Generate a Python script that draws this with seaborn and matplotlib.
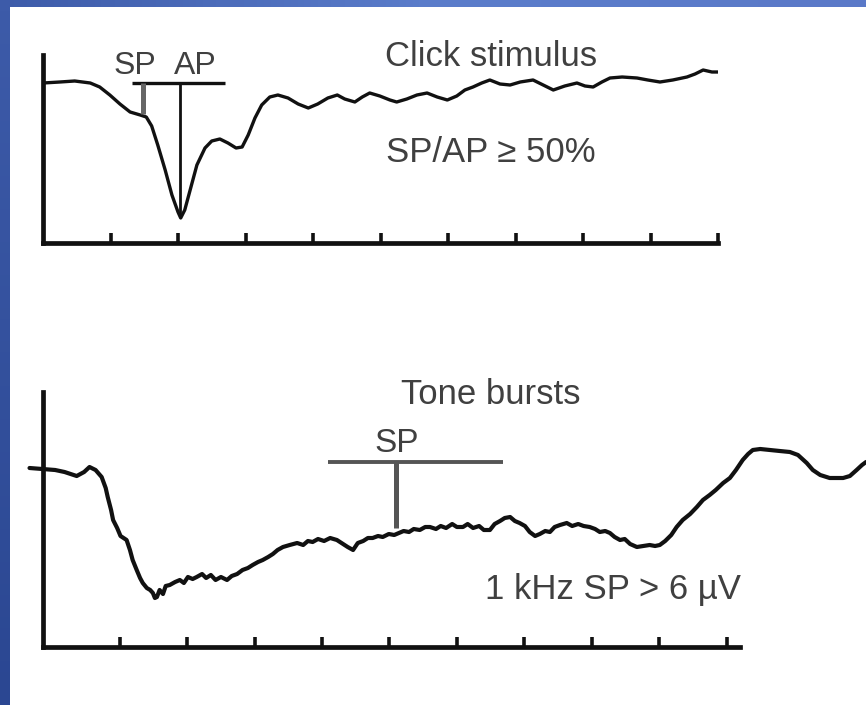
import numpy as np
import pandas as pd
import matplotlib
matplotlib.use("Agg")
import matplotlib.pyplot as plt
import seaborn as sns

# ---------------- data ----------------
# Click stimulus trace: time (tick units) and amplitude (arbitrary units, baseline 0)
click_time = [0.00, 0.25, 0.47, 0.70, 0.84, 0.99, 1.14, 1.29, 1.44, 1.53,
              1.61, 1.70, 1.81, 1.91, 2.00, 2.04, 2.10, 2.18, 2.28, 2.40,
              2.50, 2.62, 2.74, 2.86, 2.95, 3.04, 3.14, 3.24, 3.36, 3.48,
              3.63, 3.78, 3.93, 4.07, 4.22, 4.36, 4.47, 4.62, 4.73, 4.84,
              4.99, 5.14, 5.24, 5.39, 5.54, 5.69, 5.84, 5.99, 6.13, 6.25,
              6.37, 6.50, 6.62, 6.77, 6.92, 7.07, 7.26, 7.41, 7.56, 7.73,
              7.91, 8.03, 8.15, 8.28, 8.40, 8.58, 8.80, 8.96, 9.14, 9.33,
              9.54, 9.66, 9.78, 9.91, 10.03]
click_amp = [0.0, 0.1, 0.2, 0.0, -0.4, -1.2, -2.1, -2.9, -3.2, -3.4,
             -4.3, -6.2, -8.7, -11.2, -12.9, -13.5, -12.7, -10.7, -8.2, -6.5,
             -5.8, -5.6, -6.0, -6.5, -6.4, -5.2, -3.5, -2.2, -1.4, -1.2,
             -1.5, -2.1, -2.5, -2.1, -1.5, -1.2, -1.6, -1.9, -1.4, -1.0,
             -1.3, -1.7, -1.9, -1.6, -1.2, -1.0, -1.4, -1.7, -1.3, -0.7,
             -0.4, 0.0, 0.3, -0.1, -0.2, 0.1, 0.3, -0.2, -0.7, -0.3,
             0.0, -0.3, -0.4, 0.1, 0.5, 0.6, 0.5, 0.3, 0.1, 0.3,
             0.6, 0.9, 1.3, 1.1, 1.1]

# Tone-burst trace
tone_time = [-0.34, -0.14, 0.04, 0.18, 0.36, 0.47, 0.55, 0.64, 0.73, 0.79,
             0.82, 0.87, 0.90, 0.96, 1.01, 1.10, 1.15, 1.19, 1.25, 1.30,
             1.34, 1.40, 1.45, 1.49, 1.52, 1.55, 1.59, 1.64, 1.68, 1.74,
             1.82, 1.89, 1.95, 2.01, 2.08, 2.14, 2.22, 2.28, 2.35, 2.42,
             2.50, 2.59, 2.66, 2.74, 2.82, 2.90, 2.97, 3.05, 3.12, 3.20,
             3.27, 3.34, 3.42, 3.52, 3.63, 3.72, 3.79, 3.86, 3.94, 4.03,
             4.12, 4.22, 4.31, 4.38, 4.46, 4.53, 4.61, 4.68, 4.75, 4.83,
             4.90, 4.99, 5.07, 5.14, 5.21, 5.29, 5.36, 5.45, 5.53, 5.60,
             5.69, 5.76, 5.84, 5.93, 6.00, 6.09, 6.16, 6.24, 6.33, 6.40,
             6.49, 6.56, 6.64, 6.71, 6.79, 6.86, 6.93, 7.01, 7.08, 7.16,
             7.23, 7.31, 7.38, 7.45, 7.53, 7.63, 7.71, 7.80, 7.88, 7.97,
             8.05, 8.12, 8.20, 8.27, 8.34, 8.42, 8.49, 8.57, 8.67, 8.76,
             8.86, 8.94, 9.01, 9.09, 9.18, 9.26, 9.35, 9.46, 9.56, 9.65,
             9.75, 9.84, 9.95, 10.05, 10.14, 10.24, 10.32, 10.39, 10.50, 10.64,
             10.79, 10.94, 11.06, 11.19, 11.28, 11.39, 11.53, 11.73, 11.83, 11.93,
             12.01, 12.07]
tone_amp = [0.0, -0.1, -0.2, -0.4, -0.8, -0.4, 0.1, -0.2, -0.9, -2.0,
            -2.9, -4.2, -5.2, -6.0, -6.8, -7.2, -8.2, -9.2, -10.2, -11.0,
            -11.5, -12.0, -12.2, -12.5, -13.0, -12.9, -12.2, -12.6, -11.8, -11.7,
            -11.4, -11.2, -11.5, -10.9, -11.1, -10.9, -10.6, -11.0, -10.7, -11.2,
            -10.9, -11.2, -10.8, -10.6, -10.2, -10.0, -9.7, -9.4, -9.2, -8.9,
            -8.6, -8.2, -7.9, -7.7, -7.5, -7.7, -7.3, -7.4, -7.1, -7.3,
            -7.0, -7.2, -7.6, -7.9, -8.2, -7.5, -7.3, -7.0, -7.0, -6.8,
            -6.9, -6.6, -6.7, -6.5, -6.3, -6.4, -6.1, -6.2, -5.9, -5.9,
            -6.1, -5.8, -6.0, -5.6, -5.9, -5.9, -5.6, -6.0, -5.8, -6.2,
            -6.2, -5.6, -5.3, -5.0, -4.9, -5.3, -5.5, -5.8, -6.4, -6.8,
            -6.6, -6.3, -6.4, -5.9, -5.7, -5.5, -5.8, -5.6, -5.8, -5.9,
            -6.1, -6.4, -6.3, -6.5, -6.9, -7.2, -7.1, -7.6, -7.9, -7.8,
            -7.7, -7.8, -7.7, -7.3, -6.7, -5.9, -5.2, -4.6, -3.9, -3.2,
            -2.7, -2.2, -1.5, -1.0, -0.2, 0.8, 1.4, 1.8, 1.9, 1.8,
            1.7, 1.6, 1.3, 0.5, -0.2, -0.7, -1.0, -1.0, -0.8, -0.2,
            0.3, 0.6]

click_ticks = [1, 2, 3, 4, 5, 6, 7, 8, 9, 10]
tone_ticks = [1, 2, 3, 4, 5, 6, 7, 8, 9, 10]

# SP / AP markers
click_sp_time, click_sp_amp = 1.48, -3.1
click_ap_time, click_ap_amp = 2.03, -13.2
click_bar = (1.32, 2.70)
tone_sp_time, tone_sp_amp = 5.10, -6.0
tone_bar = (4.09, 6.68)
tone_bar_level = 0.6

title_click = "Click stimulus"
note_click = "SP/AP \u2265 50%"
title_tone = "Tone bursts"
note_tone = "1 kHz SP > 6 \u00b5V"

# ---------------- figure ----------------
sns.set_theme(style="white")
plt.rcParams["font.family"] = ["Liberation Sans", "DejaVu Sans"]

W, H = 866, 705
fig = plt.figure(figsize=(W / 100, H / 100), dpi=100, facecolor="white")

# slide-style blue border (left strip, top strip)
ax_l = fig.add_axes([0, 0, 10 / W, 1])
grad_v = np.linspace(0, 1, 64).reshape(-1, 1)
cm_v = matplotlib.colors.LinearSegmentedColormap.from_list("v", ["#3d5ba9", "#2b4792"])
ax_l.imshow(grad_v, aspect="auto", cmap=cm_v, extent=[0, 1, 0, 1], origin="upper")
ax_l.axis("off")
ax_t = fig.add_axes([0, 1 - 7 / H, 1, 7 / H])
grad_h = np.linspace(0, 1, 128).reshape(1, -1)
cm_h = matplotlib.colors.LinearSegmentedColormap.from_list("h", ["#3d5ba9", "#5b7dcb", "#5a79c8"])
ax_t.imshow(grad_h, aspect="auto", cmap=cm_h, extent=[0, 1, 0, 1])
ax_t.axis("off")

TXT = "#404040"
LINE = "#111111"


def style_axes(ax, ticks):
    sns.despine(ax=ax, top=True, right=True)
    for s in ("left", "bottom"):
        ax.spines[s].set_linewidth(3.4)
        ax.spines[s].set_color(LINE)
    ax.set_xticks(ticks)
    ax.set_yticks([])
    ax.tick_params(axis="x", direction="in", length=7, width=2.6, color=LINE,
                   labelbottom=False, bottom=True)
    ax.set_xlabel("")
    ax.set_ylabel("")
    ax.set_facecolor("none")


# ---- top panel: click ----
ax1 = fig.add_axes([43 / W, (H - 243) / H, 675 / W, 188 / H])
df1 = pd.DataFrame({"time": click_time, "amp": click_amp})
sns.lineplot(data=df1, x="time", y="amp", ax=ax1, color=LINE, linewidth=2.4,
             estimator=None, sort=False)
ax1.set_xlim(0, 10)
ax1.set_ylim(-16.0, 2.8)
style_axes(ax1, click_ticks)
ax1.plot(click_bar, [0, 0], color=LINE, lw=2.4, solid_capstyle="butt")
ax1.plot([click_sp_time, click_sp_time], [0, click_sp_amp], color="#666666", lw=3.6,
         solid_capstyle="butt")
ax1.plot([click_ap_time, click_ap_time], [0, click_ap_amp], color=LINE, lw=2.0,
         solid_capstyle="butt")
ax1.text(click_sp_time - 0.12, 1.7, "SP", ha="center", va="center", fontsize=23, color=TXT)
ax1.text(click_ap_time + 0.22, 1.7, "AP", ha="center", va="center", fontsize=23, color=TXT)
ax1.text(6.64, 2.6, title_click, ha="center", va="center", fontsize=25, color=TXT)
ax1.text(6.64, -6.9, note_click, ha="center", va="center", fontsize=25, color=TXT)

# ---- bottom panel: tone bursts ----
ax2 = fig.add_axes([43 / W, (H - 647) / H, 697 / W, 255 / H])
df2 = pd.DataFrame({"time": tone_time, "amp": tone_amp})
sns.lineplot(data=df2, x="time", y="amp", ax=ax2, color=LINE, linewidth=3.0,
             estimator=None, sort=False)
for ln in ax2.lines:
    ln.set_clip_on(False)
ax2.set_xlim(-0.14, 10.20)
ax2.set_ylim(-17.9, 7.6)
style_axes(ax2, tone_ticks)
ax2.plot(tone_bar, [tone_bar_level, tone_bar_level], color="#555555", lw=2.8,
         solid_capstyle="butt")
ax2.plot([tone_sp_time, tone_sp_time], [tone_bar_level, tone_sp_amp], color="#555555",
         lw=3.6, solid_capstyle="butt")
ax2.text(tone_sp_time, 2.5, "SP", ha="center", va="center", fontsize=24, color=TXT)
ax2.text(6.50, 7.3, title_tone, ha="center", va="center", fontsize=25, color=TXT)
ax2.text(8.31, -12.2, note_tone, ha="center", va="center", fontsize=25, color=TXT)

fig.savefig("out.png", dpi=100, facecolor="white")
